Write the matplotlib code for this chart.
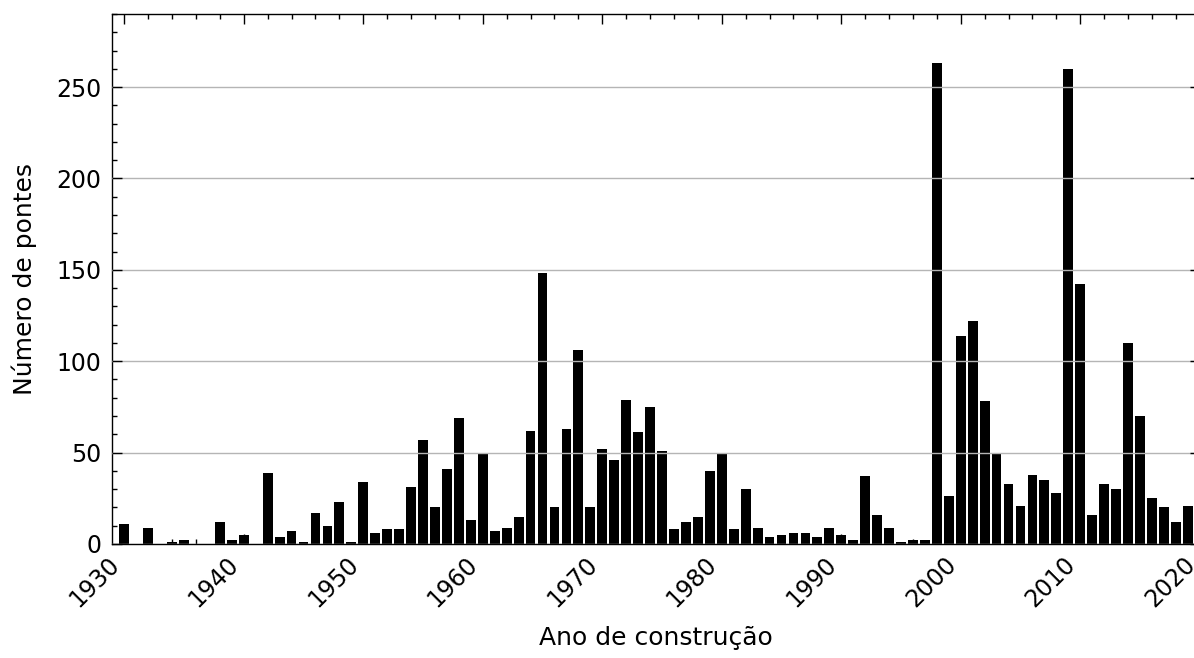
import matplotlib
matplotlib.use("Agg")
import matplotlib.pyplot as plt
from matplotlib.ticker import MultipleLocator

years = list(range(1930, 2020))
counts = [
    11, 0, 9, 0, 1, 2, 0, 0, 12, 2,        # 1930-1939
    5, 0, 39, 4, 7, 1, 17, 10, 23, 1,      # 1940-1949
    34, 6, 8, 8, 31, 57, 20, 41, 69, 13,   # 1950-1959
    50, 7, 9, 15, 62, 148, 20, 63, 106, 20,  # 1960-1969
    52, 46, 79, 61, 75, 51, 8, 12, 15, 40,   # 1970-1979
    49, 8, 30, 9, 4, 5, 6, 6, 4, 9,        # 1980-1989
    5, 2, 37, 16, 9, 1, 2, 2, 263, 26,     # 1990-1999
    114, 122, 78, 50, 33, 21, 38, 35, 28, 260,  # 2000-2009
    142, 16, 33, 30, 110, 70, 25, 20, 12, 21,   # 2010-2019
]
xtick_years = list(range(1930, 2021, 10))
xlabel = "Ano de construção"
ylabel = "Número de pontes"

fig = plt.figure(figsize=(11.94, 6.58), dpi=100)
ax = fig.add_axes([0.0941, 0.1733, 0.9107, 0.8055])

ax.bar(years, counts, width=0.82, color="black", edgecolor="none", zorder=1)
ax.set_axisbelow(False)
ax.yaxis.grid(True, color="#b5b5b5", linewidth=1.0, zorder=3)

ax.set_xlim(1929, 2020)
ax.set_ylim(0, 290)
ax.set_xticks(xtick_years)
ax.set_xticklabels([str(y) for y in xtick_years], rotation=45, ha="right")
ax.xaxis.set_minor_locator(MultipleLocator(2))
ax.yaxis.set_major_locator(MultipleLocator(50))
ax.yaxis.set_minor_locator(MultipleLocator(10))

ax.tick_params(which="both", direction="in", top=True, right=True, labelsize=17)
ax.tick_params(which="major", length=7, width=1)
ax.tick_params(which="minor", length=3.5, width=1)
ax.tick_params(axis="y", which="major", pad=8)
ax.tick_params(axis="x", which="major", pad=6)
for s in ax.spines.values():
    s.set_linewidth(1.0)

ax.set_xlabel(xlabel, fontsize=18, labelpad=10)
ax.set_ylabel(ylabel, fontsize=18, labelpad=14)

fig.savefig("out.png", dpi=100)
